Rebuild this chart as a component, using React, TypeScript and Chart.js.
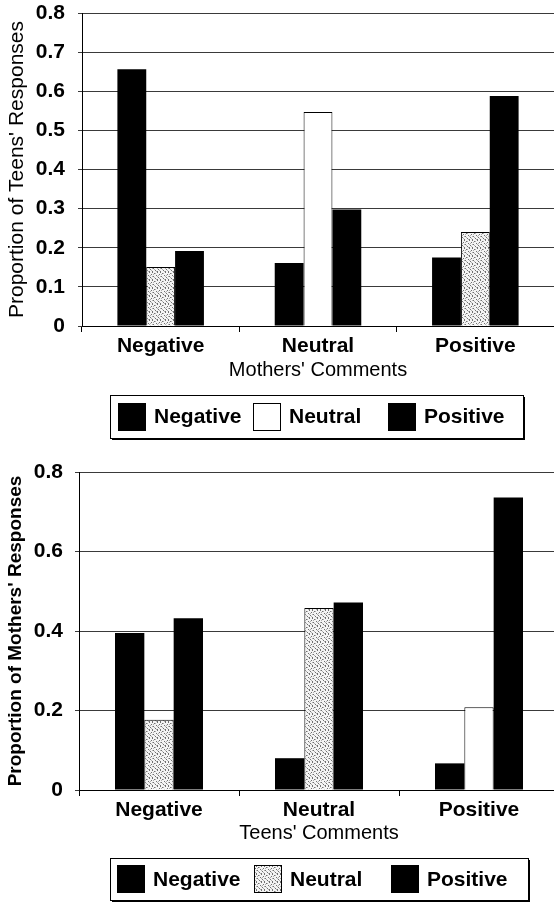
import React, { useEffect, useRef } from 'react';
import { Chart, registerables } from 'chart.js';

Chart.register(...registerables);

// ---- data ----
const categories = ['Negative', 'Neutral', 'Positive'];
const seriesNames = ['Negative', 'Neutral', 'Positive'];

// Chart 1: teens' responses to mothers' comments
const teensNegative = [0.656, 0.161, 0.175];
const teensNeutral = [0.151, 0.547, 0.24];
const teensPositive = [0.192, 0.298, 0.588];

// Chart 2: mothers' responses to teens' comments
const mothersNegative = [0.395, 0.08, 0.067];
const mothersNeutral = [0.177, 0.458, 0.208];
const mothersPositive = [0.432, 0.472, 0.736];

const FONT = "'Liberation Sans', Arial, sans-serif";

// fixed stipple texture (8x8 tile)
const STIPPLE_DARK = [
  [0, 0], [5, 0], [2, 1], [7, 2], [4, 3], [1, 4], [6, 5], [3, 6], [0, 7], [5, 7],
];
const STIPPLE_MID = [
  [3, 1], [6, 3], [1, 2], [2, 5], [7, 6], [4, 7], [0, 4], [5, 4],
];

function makeStipple(): CanvasPattern | string {
  const c = document.createElement('canvas');
  c.width = 8;
  c.height = 8;
  const g = c.getContext('2d');
  if (!g) return '#dddddd';
  g.fillStyle = '#f4f4f4';
  g.fillRect(0, 0, 8, 8);
  g.fillStyle = '#707070';
  STIPPLE_DARK.forEach(([x, y]) => g.fillRect(x, y, 1, 1));
  g.fillStyle = '#b0b0b0';
  STIPPLE_MID.forEach(([x, y]) => g.fillRect(x, y, 1, 1));
  const p = g.createPattern(c, 'repeat');
  return p || '#dddddd';
}

const legendBoxPlugin = {
  id: 'legendBox',
  afterDraw(chart: any, _args: any, opts: any) {
    const { ctx, chartArea } = chart;
    const n = chart.data.datasets.length;
    const width = opts.padLeft + opts.slot * n;
    const left = opts.left;
    const top = Math.round(chartArea.bottom + opts.offsetTop);
    const height = opts.height;
    ctx.save();
    ctx.fillStyle = '#000';
    ctx.fillRect(left + 2, top + height, width, 2);
    ctx.fillRect(left + width, top + 2, 2, height);
    ctx.strokeStyle = '#000';
    ctx.lineWidth = 1;
    ctx.strokeRect(left + 0.5, top + 0.5, width, height);
    const sw = opts.swatch;
    chart.data.datasets.forEach((ds: any, i: number) => {
      const sx = left + opts.padLeft + i * opts.slot;
      const sy = Math.round(top + (height - sw) / 2);
      ctx.fillStyle = opts.fills[i];
      ctx.fillRect(sx, sy, sw, sw);
      if (opts.outline[i]) {
        ctx.strokeStyle = '#000';
        ctx.lineWidth = 1;
        ctx.strokeRect(sx + 0.5, sy + 0.5, sw - 1, sw - 1);
      }
      ctx.fillStyle = '#000';
      ctx.font = `bold 21px ${FONT}`;
      ctx.textBaseline = 'middle';
      ctx.textAlign = 'left';
      ctx.fillText(ds.label, sx + sw + 8, top + height / 2 + 1);
    });
    ctx.restore();
  },
};

interface PanelProps {
  width: number;
  height: number;
  top: number;
  neg: number[];
  neu: number[];
  pos: number[];
  neutralStyle: boolean[]; // true = stippled
  legendNeutralStipple: boolean;
  yMax: number;
  yStep: number;
  yTitle: string;
  yTitleSize: number;
  yTitleWeight: string;
  yTitlePad: number;
  xTitle: string;
  yWidth: number;
  padTop: number;
  xHeight: number;
  padBottom: number;
  legendLeft: number;
  legendSlot: number;
  legendPadLeft: number;
  legendOffsetTop: number;
  legendHeight: number;
  tickPad: number;
}

function Panel(p: PanelProps) {
  const ref = useRef<HTMLCanvasElement>(null);
  useEffect(() => {
    const canvas = ref.current;
    if (!canvas) return;
    const stipple = makeStipple();
    const neutralFills = p.neutralStyle.map((s) => (s ? stipple : '#ffffff'));
    const chart = new Chart(canvas, {
      type: 'bar',
      data: {
        labels: categories,
        datasets: [
          {
            label: seriesNames[0],
            data: p.neg,
            backgroundColor: '#000000',
            borderWidth: 0,
            categoryPercentage: 0.55,
            barPercentage: 1.0,
          },
          {
            label: seriesNames[1],
            data: p.neu,
            backgroundColor: neutralFills as any,
            borderColor: '#000000',
            borderWidth: 1,
            borderSkipped: 'bottom',
            categoryPercentage: 0.55,
            barPercentage: 1.0,
          },
          {
            label: seriesNames[2],
            data: p.pos,
            backgroundColor: '#000000',
            borderWidth: 0,
            categoryPercentage: 0.55,
            barPercentage: 1.0,
          },
        ],
      },
      options: {
        responsive: false,
        animation: false,
        events: [],
        layout: { padding: { top: p.padTop, bottom: p.padBottom, left: 0, right: 0 } },
        plugins: {
          legend: { display: false },
          tooltip: { enabled: false },
          legendBox: {
            left: p.legendLeft,
            slot: p.legendSlot,
            padLeft: p.legendPadLeft,
            offsetTop: p.legendOffsetTop,
            height: p.legendHeight,
            swatch: 28,
            fills: ['#000000', p.legendNeutralStipple ? stipple : '#ffffff', '#000000'],
            outline: [false, true, false],
          },
        } as any,
        scales: {
          x: {
            offset: true,
            grid: {
              display: true,
              drawOnChartArea: false,
              drawTicks: true,
              tickLength: 6,
              color: '#000',
              offset: true,
            },
            border: { display: true, color: '#000', width: 1 },
            ticks: {
              font: { family: FONT, size: 21, weight: 'bold' },
              color: '#000',
              padding: 2,
              maxRotation: 0,
              autoSkip: false,
            },
            title: {
              display: true,
              text: p.xTitle,
              font: { family: FONT, size: 20 },
              color: '#000',
              padding: 0,
            },
            afterFit: (s: any) => {
              s.height = p.xHeight;
            },
          },
          y: {
            min: 0,
            max: p.yMax,
            ticks: {
              stepSize: p.yStep,
              font: { family: FONT, size: 21, weight: 'bold' },
              color: '#000',
              padding: p.tickPad,
            },
            grid: { color: '#3a3a3a', lineWidth: 1, tickLength: 4, drawTicks: true },
            border: { display: true, color: '#000', width: 1 },
            title: {
              display: true,
              text: p.yTitle,
              font: { family: FONT, size: p.yTitleSize, weight: p.yTitleWeight },
              color: '#000',
              padding: { top: p.yTitlePad, bottom: 0 },
            },
            afterFit: (s: any) => {
              s.width = p.yWidth;
              s.paddingTop = 0;
              s.paddingBottom = 0;
            },
          },
        },
      } as any,
      plugins: [legendBoxPlugin],
    });
    return () => chart.destroy();
  }, []);
  return (
    <canvas
      ref={ref}
      width={p.width}
      height={p.height}
      style={{ position: 'absolute', left: 0, top: p.top, width: p.width, height: p.height }}
    />
  );
}

export default function App() {
  return (
    <div
      style={{
        position: 'absolute',
        left: 0,
        top: 0,
        width: 554,
        height: 902,
        overflow: 'hidden',
        background: '#ffffff',
      }}
    >
      <Panel
        width={554}
        height={450}
        top={0}
        neg={teensNegative}
        neu={teensNeutral}
        pos={teensPositive}
        neutralStyle={[true, false, true]}
        legendNeutralStipple={false}
        yMax={0.8}
        yStep={0.1}
        yTitle={"Proportion of Teens' Responses"}
        yTitleSize={21}
        yTitleWeight={'normal'}
        yTitlePad={5}
        xTitle={"Mothers' Comments"}
        yWidth={82}
        padTop={13}
        xHeight={56}
        padBottom={68}
        legendLeft={110}
        legendSlot={135}
        legendPadLeft={8}
        legendOffsetTop={69}
        legendHeight={43}
        tickPad={13}
      />
      <Panel
        width={559}
        height={452}
        top={450}
        neg={mothersNegative}
        neu={mothersNeutral}
        pos={mothersPositive}
        neutralStyle={[true, true, false]}
        legendNeutralStipple={true}
        yMax={0.8}
        yStep={0.2}
        yTitle={"Proportion of Mothers' Responses"}
        yTitleSize={19}
        yTitleWeight={'bold'}
        yTitlePad={4}
        xTitle={"Teens' Comments"}
        yWidth={79}
        padTop={22}
        xHeight={55}
        padBottom={57}
        legendLeft={110}
        legendSlot={137}
        legendPadLeft={7}
        legendOffsetTop={68}
        legendHeight={42}
        tickPad={12}
      />
    </div>
  );
}
